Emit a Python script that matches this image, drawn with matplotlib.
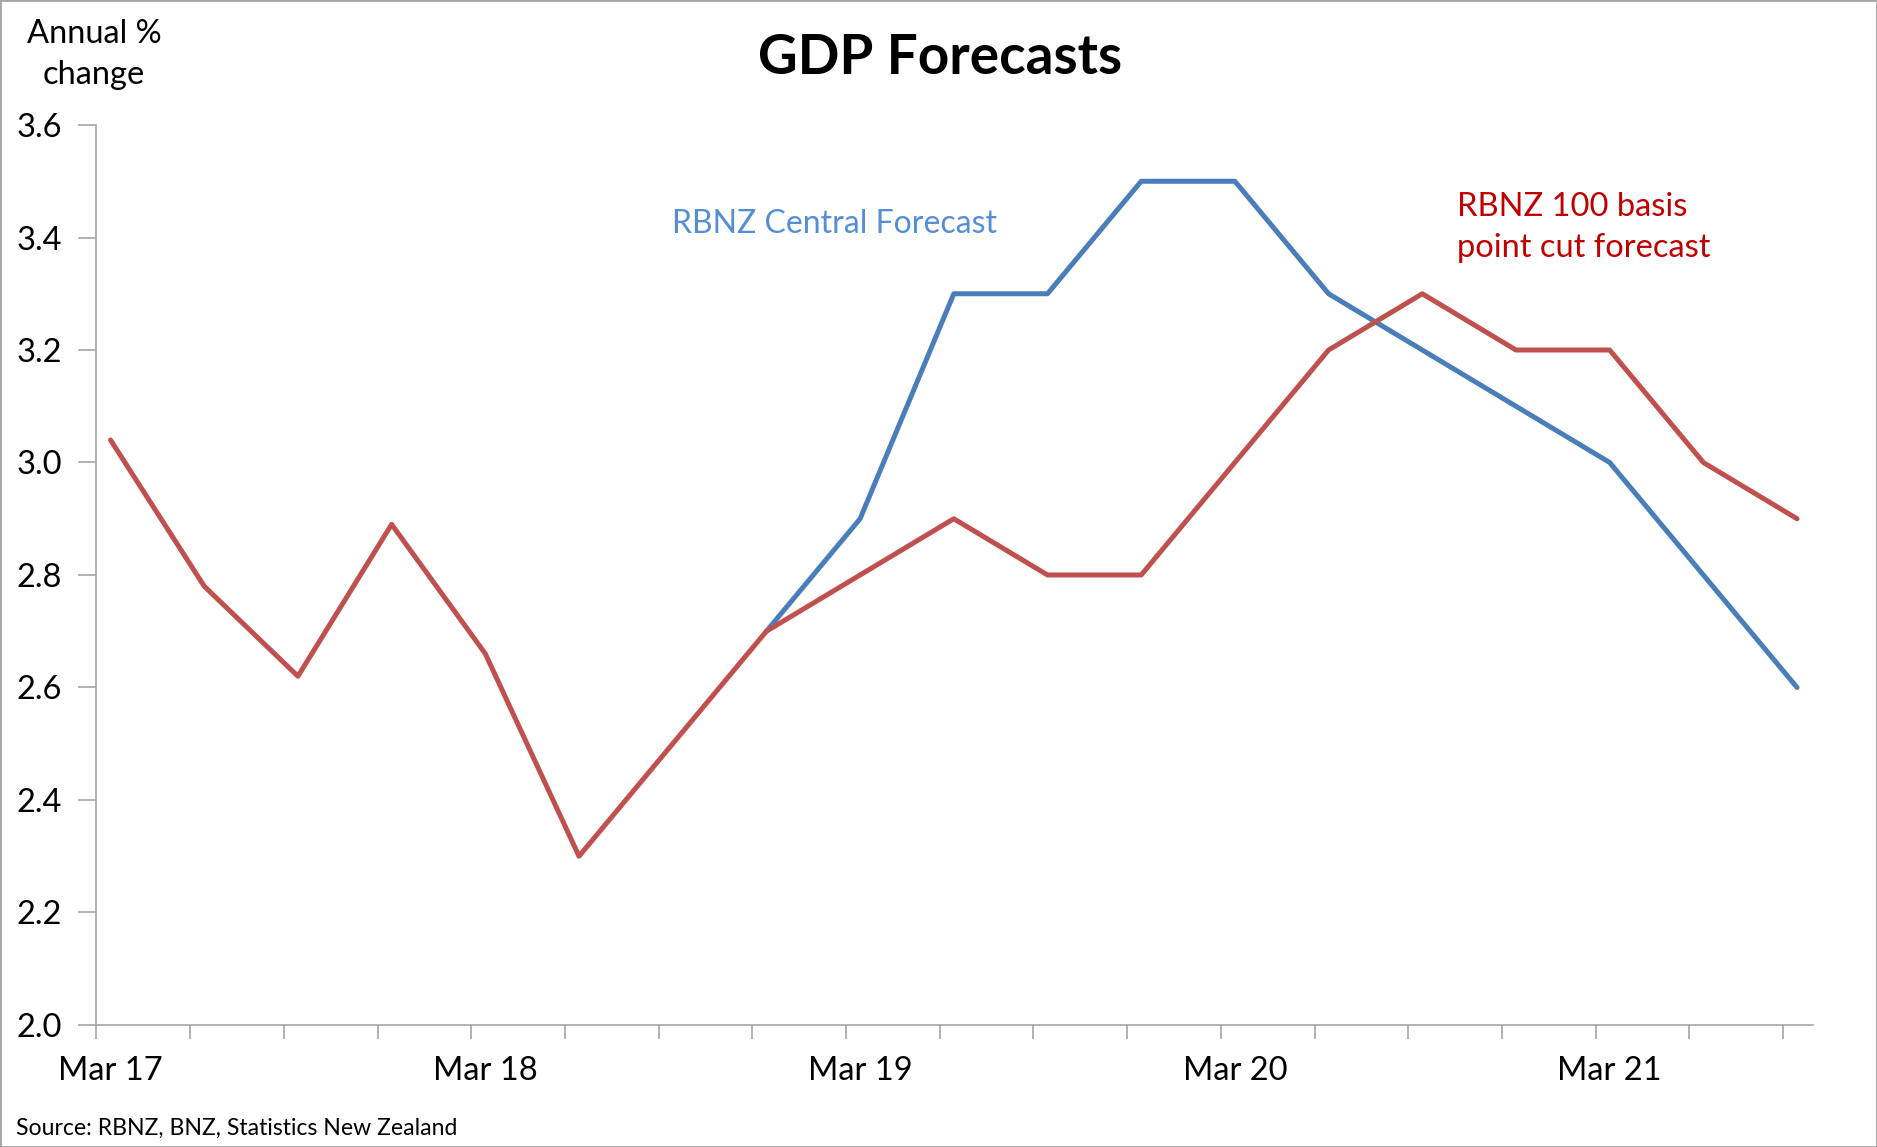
import matplotlib.pyplot as plt
from matplotlib.patches import Rectangle

# Quarterly annual % change in GDP, Mar 17 to Sep 21
quarters = ['Mar 17', 'Jun 17', 'Sep 17', 'Dec 17',
            'Mar 18', 'Jun 18', 'Sep 18', 'Dec 18',
            'Mar 19', 'Jun 19', 'Sep 19', 'Dec 19',
            'Mar 20', 'Jun 20', 'Sep 20', 'Dec 20',
            'Mar 21', 'Jun 21', 'Sep 21']
cut_forecast = [3.04, 2.78, 2.62, 2.89, 2.66, 2.30, 2.50, 2.70, 2.80, 2.90,
                2.80, 2.80, 3.00, 3.20, 3.30, 3.20, 3.20, 3.00, 2.90]
central_start = 7
central_forecast = [2.70, 2.90, 3.30, 3.30, 3.50, 3.50, 3.30, 3.20, 3.10,
                    3.00, 2.80, 2.60]
yticks = [2.0, 2.2, 2.4, 2.6, 2.8, 3.0, 3.2, 3.4, 3.6]

plt.rcParams['font.family'] = ['Lato', 'DejaVu Sans']

blue = '#4a7ebb'
red = '#c0504d'
axis_grey = '#a6a6a6'

fig = plt.figure(figsize=(18.77, 11.47), dpi=100)
ax = fig.add_axes([0.0514, 0.1064, 0.9145, 0.7846])

x = list(range(len(quarters)))
x_central = x[central_start:]
ax.plot(x_central, central_forecast, color=blue, lw=3.6,
        solid_capstyle='round', solid_joinstyle='round', zorder=3)
ax.plot(x, cut_forecast, color=red, lw=3.6,
        solid_capstyle='round', solid_joinstyle='round', zorder=4)

ax.set_xlim(-0.15, 18.17)
ax.set_ylim(2.0, 3.6)

# tick marks sit between quarters, labels on each March
ax.set_xticks([i - 0.15 for i in x])
ax.set_xticklabels([''] * len(x))
ax.set_xticks(x[::4], minor=True)
ax.set_xticklabels(quarters[::4], minor=True)
ax.tick_params(axis='x', which='major', direction='out', length=10,
               width=1.2, color=axis_grey)
ax.tick_params(axis='x', which='minor', length=0, pad=22, labelsize=23.5)

ax.set_yticks(yticks)
ax.set_yticklabels([f'{v:.1f}' for v in yticks])
ax.tick_params(axis='y', direction='out', length=13, width=1.2,
               color=axis_grey, pad=12, labelsize=23.5)

for side in ['top', 'right']:
    ax.spines[side].set_visible(False)
for side in ['left', 'bottom']:
    ax.spines[side].set_color(axis_grey)
    ax.spines[side].set_linewidth(1.2)

fig.text(0.501, 0.949, 'GDP Forecasts', ha='center', va='center',
         fontsize=39.5, fontweight='bold')
fig.text(0.050, 0.983, 'Annual %\nchange', ha='center', va='top',
         fontsize=23.5, linespacing=1.42)
fig.text(0.358, 0.805, 'RBNZ Central Forecast', color='#558ed5',
         fontsize=23, va='center')
fig.text(0.776, 0.802, 'RBNZ 100 basis\npoint cut forecast', color='#c00000',
         fontsize=23.5, va='center', linespacing=1.45)
fig.text(0.0085, 0.0165, 'Source: RBNZ, BNZ, Statistics New Zealand',
         fontsize=16.6, va='center')

fig.patches.append(Rectangle((0, 0), 1, 1, transform=fig.transFigure,
                             fill=False, edgecolor=axis_grey, lw=2))

fig.savefig('out.png', dpi=100)
